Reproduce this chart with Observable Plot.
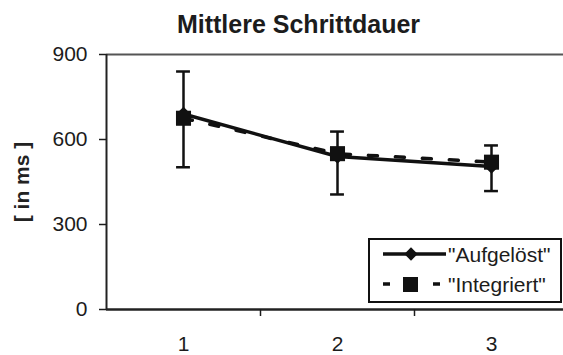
<!DOCTYPE html>
<html>
<head>
<meta charset="utf-8">
<script src="https://cdn.jsdelivr.net/npm/d3@7"></script>
<script src="https://cdn.jsdelivr.net/npm/@observablehq/plot@0.6"></script>
<style>
  body { margin: 0; background: #fff; font-family: "Liberation Sans", Arial, sans-serif; color: #1c1c1c; }
  #chart { position: relative; width: 563px; height: 355px; overflow: hidden; background: #fff; }
  #title { height: 40px; box-sizing: border-box; padding: 12px 0 0 34px; text-align: center;
           font-weight: bold; font-size: 25px; line-height: 25px; white-space: nowrap; }
  #legend { position: absolute; left: 368px; top: 238px; width: 194px; height: 65px;
            border: 2px solid #111; box-sizing: border-box; background: #fff; }
  .row { position: absolute; left: 8px; height: 28px; display: flex; align-items: center; }
  .row span { font-size: 21px; line-height: 21px; white-space: nowrap; }
  .row svg { display: block; }
</style>
</head>
<body>
<div id="chart">
  <div id="title">Mittlere Schrittdauer</div>
  <div id="plot"></div>
  <div id="legend"></div>
</div>
<script>
// Mean step duration per block (ms), two conditions
const categories = [1, 2, 3];
const aufgeloest = [690, 540, 505];
const integriert = [675, 550, 520];
const errLow = [502, 406, 418];
const errHigh = [840, 628, 579];
const yTicks = [0, 300, 600, 900];
const seriesNames = ['"Aufgelöst"', '"Integriert"'];
const yLabel = "[ in ms ]";

const rows = categories.map((c, i) => ({
  x: c, a: aufgeloest[i], b: integriert[i], lo: errLow[i], hi: errHigh[i]
}));
const cap = 0.045;

const chart = Plot.plot({
  width: 563,
  height: 315,
  marginTop: 14,
  marginBottom: 46,
  marginLeft: 106,
  marginRight: 0,
  x: { type: "linear", domain: [0.5, 3.5], range: [106, 568] },
  y: { domain: [0, 900] },
  style: { fontFamily: "Liberation Sans, Arial, sans-serif", fontSize: "21px", color: "#1c1c1c", background: "#fff" },
  marks: [
    Plot.ruleY([900], { stroke: "#555", strokeWidth: 2 }),
    Plot.ruleY([0], { stroke: "#222", strokeWidth: 2.5 }),
    Plot.ruleX([0.5], { y1: 0, y2: 900, stroke: "#222", strokeWidth: 2 }),
    Plot.axisY({ ticks: yTicks, tickSize: 7, tickPadding: 12, tickFormat: d => d, label: null, strokeWidth: 1.5 }),
    Plot.axisX({ ticks: [1.5, 2.5], tickSize: 7, tickFormat: () => "", label: null, strokeWidth: 1.5 }),
    Plot.axisX({ ticks: categories, tickSize: 0, tickPadding: 27, tickFormat: d => d, label: null }),
    Plot.text([yLabel], { frameAnchor: "left", textAnchor: "middle", rotate: -90, dx: -84, fontWeight: "bold", fill: "#222" }),
    // error bars
    Plot.ruleX(rows, { x: "x", y1: "lo", y2: "hi", stroke: "#111", strokeWidth: 2.5 }),
    Plot.ruleY(rows, { y: "lo", x1: d => d.x - cap, x2: d => d.x + cap, stroke: "#111", strokeWidth: 2.5 }),
    Plot.ruleY(rows, { y: "hi", x1: d => d.x - cap, x2: d => d.x + cap, stroke: "#111", strokeWidth: 2.5 }),
    // series lines
    Plot.line(rows, { x: "x", y: "b", stroke: "#111", strokeWidth: 3.5, strokeDasharray: "9,18" }),
    Plot.line(rows, { x: "x", y: "a", stroke: "#111", strokeWidth: 3.5 }),
    Plot.dot(rows, { x: "x", y: "a", symbol: "diamond2", r: 6.5, fill: "#111" }),
    Plot.dot(rows, { x: "x", y: "b", symbol: "square", r: 8.5, fill: "#111" })
  ]
});
document.getElementById("plot").appendChild(chart);

// legend
const legend = d3.select("#legend");
seriesNames.forEach((name, i) => {
  const row = legend.append("div").attr("class", "row").style("top", (i === 0 ? 0 : 30) + "px");
  const svg = row.append("svg").attr("width", 70).attr("height", 28);
  if (i === 0) {
    svg.append("line").attr("x1", 5).attr("x2", 68).attr("y1", 14).attr("y2", 14)
      .attr("stroke", "#111").attr("stroke-width", 3.5);
    svg.append("path").attr("d", d3.symbol(d3.symbolDiamond2, Math.PI * 6 * 6)())
      .attr("transform", "translate(33,14)").attr("fill", "#111");
  } else {
    svg.append("line").attr("x1", 5).attr("x2", 62).attr("y1", 14).attr("y2", 14)
      .attr("stroke", "#111").attr("stroke-width", 3.5).attr("stroke-dasharray", "7,43");
    svg.append("rect").attr("x", 25).attr("y", 7).attr("width", 15).attr("height", 15).attr("fill", "#111");
  }
  row.append("span").text(name);
});
</script>
</body>
</html>
